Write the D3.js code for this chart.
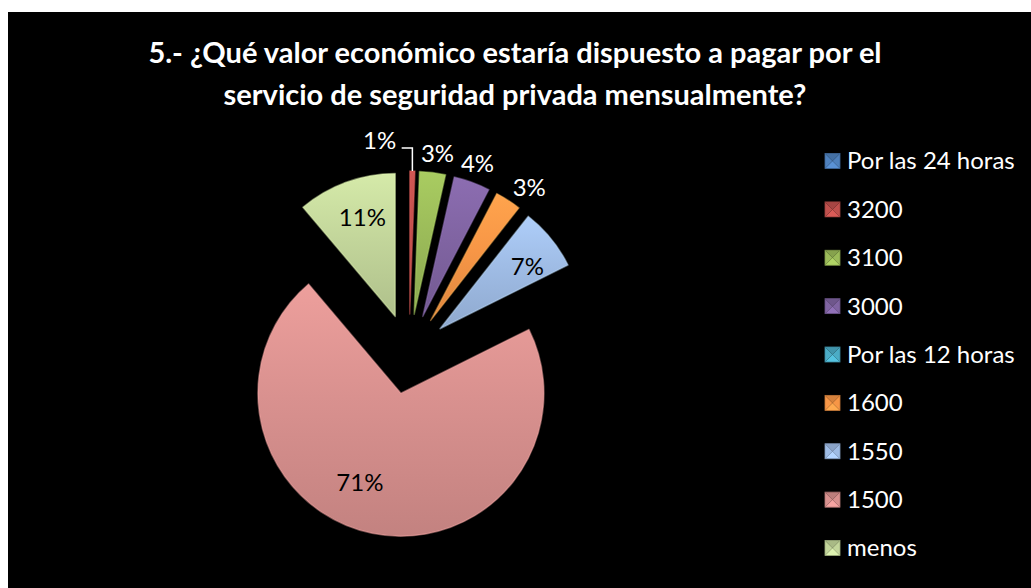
<!DOCTYPE html>
<html>
<head>
<meta charset="utf-8">
<script src="https://cdn.jsdelivr.net/npm/d3@7"></script>
<style>
  body { margin: 0; background: #fff; }
  svg { display: block; font-family: Lato, "Open Sans", sans-serif; }
</style>
</head>
<body>
<div id="chart"></div>
<script>
// chart data (responses per option)
const categories = ["Por las 24 horas", "3200", "3100", "3000", "Por las 12 horas", "1600", "1550", "1500", "menos"];
const responses = [0, 1, 5, 7, 0, 5, 12, 121, 19];
const sliceColors = ["#4F81BD", "#C0504D", "#9BBB59", "#8064A2", "#4BACC6", "#F79646", "#9FBCE5", "#D9918F", "#C3D69B"];
const titleLines = ["5.- ¿Qué valor económico estaría dispuesto a pagar por el", "servicio de seguridad privada mensualmente?"];

// label placement relative to the pie center: distance and angular shift (deg) from the slice bisector
const labelLayout = {
    "3200": {dist: 215, shift: -8.9, inside: false, leader: true},
    "3100": {dist: 202, shift: 0.7, inside: false},
    "3000": {dist: 202, shift: -0.3, inside: false},
    "1600": {dist: 205, shift: 3.1, inside: false},
    "1550": {dist: 147, shift: 2.8, inside: true},
    "1500": {dist: 138, shift: 9.2, inside: true},
    "menos": {dist: 144.5, shift: 1.3, inside: true}
};

const size = {width: 1031, height: 588};
const pie = {cx: 409, cy: 354, r: 143, explode: 40};

const svg = d3.select("#chart").append("svg")
    .attr("width", size.width)
    .attr("height", size.height);

// black plot area
svg.append("rect")
    .attr("x", 8).attr("y", 12)
    .attr("width", size.width - 8).attr("height", size.height - 12)
    .attr("fill", "#000");

const defs = svg.append("defs");
sliceColors.forEach((c, i) => {
    const g = defs.append("linearGradient")
        .attr("id", "grad" + i)
        .attr("x1", 0).attr("y1", 0).attr("x2", 0).attr("y2", 1);
    g.append("stop").attr("offset", "0%").attr("stop-color", d3.color(c).brighter(0.25));
    g.append("stop").attr("offset", "45%").attr("stop-color", c);
    g.append("stop").attr("offset", "100%").attr("stop-color", d3.color(c).darker(0.3));
});

// title
svg.append("g").selectAll("text")
    .data(titleLines)
    .join("text")
    .attr("x", 515)
    .attr("y", (d, i) => 63 + i * 42)
    .attr("text-anchor", "middle")
    .attr("font-size", "29px")
    .attr("font-weight", "bold")
    .attr("fill", "#fff")
    .text(d => d);

// pie
const data = categories.map((c, i) => ({category: c, value: responses[i], index: i}));
const total = d3.sum(responses);
const arcs = d3.pie().sort(null).value(d => d.value)(data)
    .filter(a => a.data.value > 0);
const arcGen = d3.arc().innerRadius(0).outerRadius(pie.r);

const pieG = svg.append("g")
    .attr("transform", "translate(" + pie.cx + "," + pie.cy + ")");

const mid = a => (a.startAngle + a.endAngle) / 2;

pieG.selectAll(".slice")
    .data(arcs)
    .join("path")
    .attr("class", "slice")
    .attr("transform", a => {
        const m = mid(a);
        return "translate(" + (Math.sin(m) * pie.explode) + "," + (-Math.cos(m) * pie.explode) + ")";
    })
    .attr("d", arcGen)
    .attr("fill", a => "url(#grad" + a.data.index + ")")
    .attr("stroke", a => d3.color(sliceColors[a.data.index]).brighter(0.5))
    .attr("stroke-opacity", 0.45)
    .attr("stroke-width", 1.5)
    .attr("stroke-linejoin", "round");

// data labels
const fmt = v => Math.round(v / total * 100) + "%";
const labelPos = a => {
    const lay = labelLayout[a.data.category];
    const ang = mid(a) + lay.shift * Math.PI / 180;
    return [Math.sin(ang) * lay.dist, -Math.cos(ang) * lay.dist];
};

pieG.selectAll(".dataLabel")
    .data(arcs)
    .join("text")
    .attr("class", "dataLabel")
    .attr("x", a => labelPos(a)[0])
    .attr("y", a => labelPos(a)[1])
    .attr("dy", "0.35em")
    .attr("text-anchor", "middle")
    .attr("font-size", "24px")
    .attr("fill", a => labelLayout[a.data.category].inside ? "#000" : "#fff")
    .text(a => fmt(a.data.value));

// leader line for the thin slice
pieG.selectAll(".leader")
    .data(arcs.filter(a => labelLayout[a.data.category].leader))
    .join("path")
    .attr("class", "leader")
    .attr("fill", "none")
    .attr("stroke", "#fff")
    .attr("stroke-width", 1.5)
    .attr("d", a => {
        const [lx, ly] = labelPos(a);
        const m = mid(a);
        const ex = Math.sin(m) * (pie.r + pie.explode);
        const ey = -Math.cos(m) * (pie.r + pie.explode);
        const sx = lx + 22, sy = ly + 7;
        return "M" + sx + "," + sy + "L" + ex + "," + sy + "L" + ex + "," + ey;
    });

// legend
const legendY = d3.scalePoint().domain(categories).range([161, 548]);
const legendG = svg.append("g").attr("class", "legend");
const items = legendG.selectAll(".legendItem")
    .data(categories)
    .join("g")
    .attr("class", "legendItem")
    .attr("transform", d => "translate(825," + legendY(d) + ")");

const m = 7.5;
const tri = [
    {pts: [[-m, -m], [m, -m], [0, 0]], tone: c => d3.color(c).darker(0.4)},
    {pts: [[m, -m], [m, m], [0, 0]], tone: c => c},
    {pts: [[m, m], [-m, m], [0, 0]], tone: c => d3.color(c).brighter(0.35)},
    {pts: [[-m, m], [-m, -m], [0, 0]], tone: c => c}
];
items.each(function(d, i) {
    const g = d3.select(this).append("g").attr("transform", "translate(" + m + ",0)");
    tri.forEach(t => {
        g.append("path")
            .attr("d", "M" + t.pts.map(p => p.join(",")).join("L") + "Z")
            .attr("fill", t.tone(sliceColors[i]));
    });
    g.append("rect")
        .attr("x", -m).attr("y", -m).attr("width", 2 * m).attr("height", 2 * m)
        .attr("fill", "none")
        .attr("stroke", d3.color(sliceColors[i]).darker(0.6))
        .attr("stroke-width", 0.8);
});

items.append("text")
    .attr("x", 22)
    .attr("dy", "0.35em")
    .attr("font-size", "24px")
    .attr("fill", "#fff")
    .text(d => d);
</script>
</body>
</html>
